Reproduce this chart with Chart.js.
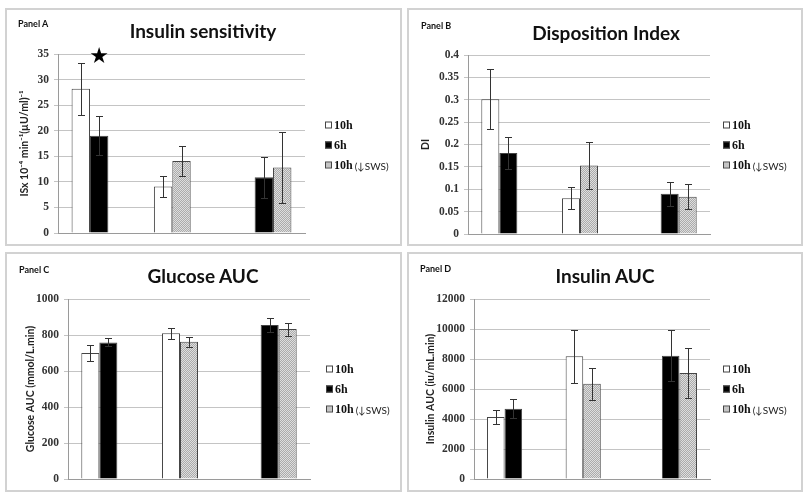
<!DOCTYPE html>
<html>
<head>
<meta charset="utf-8">
<script src="https://cdn.jsdelivr.net/npm/chart.js@4.4.1/dist/chart.umd.min.js"></script>
<style>
  body { margin: 0; background: #fff; width: 809px; height: 498px; position: relative; overflow: hidden; font-family: Lato, "Liberation Sans", sans-serif; color: #111; }
  .box { position: absolute; border: 2px solid #d2d2d2; box-sizing: border-box; }
  canvas { position: absolute; }
  .lbl { position: absolute; font-weight: bold; font-size: 9px; transform: translateY(-50%); white-space: nowrap; }
  .ttl { position: absolute; font-weight: bold; font-size: 19px; transform: translate(-50%, -50%); white-space: nowrap; }
  .leg { position: absolute; font-size: 11px; white-space: nowrap; transform: translateY(-50%); display: flex; align-items: center; }
  .leg i { display: inline-block; width: 5px; height: 5px; border: 1px solid #444; margin-right: 2px; }
  .leg b { font-family: "Liberation Serif", serif; font-size: 12px; }
  .leg span { font-size: 10px; color: #222; margin-left: 2px; }
</style>
</head>
<body>
<script>
// ===== data =====
const GROUPS = ['', '', ''];
const SERIES = ['10h', '6h', '10h'];
const SERIES_NOTE = ['', '', '(↓SWS)'];
// slot each series takes inside a group (Excel left gaps where a series is missing)
const SLOTS = [[0, 1, null], [0, null, 1], [null, 1, 2]];

// Panel A - insulin sensitivity
const isTen = [28.2, 9.1, null];
const isSix = [19.0, null, 10.9];
const isLow = [null, 14.1, 12.8];
const isTenErr = [5.1, 2.0, null];
const isSixErr = [3.8, null, 4.0];
const isLowErr = [null, 2.9, 6.9];
const isTicks = [0, 5, 10, 15, 20, 25, 30, 35];
const isStar = { group: 0, series: 1, value: 34.4 };

// Panel B - disposition index
const diTen = [0.301, 0.080, null];
const diSix = [0.181, null, 0.090];
const diLow = [null, 0.153, 0.083];
const diTenErr = [0.067, 0.025, null];
const diSixErr = [0.036, null, 0.027];
const diLowErr = [null, 0.053, 0.028];
const diTicks = [0, 0.05, 0.1, 0.15, 0.2, 0.25, 0.3, 0.35, 0.4];

// Panel C - glucose AUC
const gluTen = [700, 810, null];
const gluSix = [759, null, 856];
const gluLow = [null, 762, 833];
const gluTenErr = [46, 30, null];
const gluSixErr = [22, null, 38];
const gluLowErr = [null, 29, 36];
const gluTicks = [0, 200, 400, 600, 800, 1000];

// Panel D - insulin AUC
const insTen = [4130, 8180, null];
const insSix = [4690, null, 8220];
const insLow = [null, 6350, 7060];
const insTenErr = [480, 1770, null];
const insSixErr = [620, null, 1710];
const insLowErr = [null, 1060, 1680];
const insTicks = [0, 2000, 4000, 6000, 8000, 10000, 12000];
// =====================================

// fine grey stipple like the Excel fill
function grayPattern(ctx) {
  const t = document.createElement('canvas');
  t.width = 2; t.height = 2;
  const c = t.getContext('2d');
  c.fillStyle = '#dedede'; c.fillRect(0, 0, 2, 2);
  c.fillStyle = '#ababab';
  c.fillRect(0, 0, 1, 1); c.fillRect(1, 1, 1, 1);
  return ctx.createPattern(t, 'repeat');
}

// Error bar whiskers
const errorBars = {
  id: 'errorBars',
  afterDatasetsDraw(chart) {
    const { ctx, scales: { y } } = chart;
    ctx.save();
    ctx.strokeStyle = '#333';
    ctx.lineWidth = 1;
    chart.data.datasets.forEach((ds, i) => {
      chart.getDatasetMeta(i).data.forEach((bar, j) => {
        const v = ds.data[j], e = ds.errors[j];
        if (v == null || e == null) return;
        const x = Math.round(bar.x) + 0.5;
        const yt = Math.round(y.getPixelForValue(v + e)) + 0.5;
        const yb = Math.round(y.getPixelForValue(v - e)) + 0.5;
        ctx.beginPath();
        ctx.moveTo(x, yt); ctx.lineTo(x, yb);
        ctx.moveTo(x - 3.5, yt); ctx.lineTo(x + 3.5, yt);
        ctx.moveTo(x - 3.5, yb); ctx.lineTo(x + 3.5, yb);
        ctx.stroke();
      });
    });
    ctx.restore();
  }
};

// Significance star
const starMark = {
  id: 'starMark',
  afterDatasetsDraw(chart, args, opts) {
    if (!opts || !opts.mark) return;
    const m = opts.mark;
    const slot = SLOTS[m.group][m.series];
    const bar = chart.getDatasetMeta(slot).data[m.group];
    const ctx = chart.ctx;
    ctx.save();
    ctx.fillStyle = '#000';
    ctx.font = '22px "DejaVu Sans"';
    ctx.textAlign = 'center';
    ctx.textBaseline = 'middle';
    ctx.fillText('★', bar.x, chart.scales.y.getPixelForValue(m.value));
    ctx.restore();
  }
};

// Build one panel: border, canvas, texts and chart
function buildPanel(p) {
  const box = document.createElement('div');
  box.className = 'box';
  Object.assign(box.style, { left: p.x + 'px', top: p.y + 'px', width: p.w + 'px', height: p.h + 'px' });
  document.body.appendChild(box);

  const cv = document.createElement('canvas');
  cv.width = p.w; cv.height = p.h;
  Object.assign(cv.style, { left: p.x + 'px', top: p.y + 'px', width: p.w + 'px', height: p.h + 'px' });
  document.body.appendChild(cv);

  const lbl = document.createElement('div');
  lbl.className = 'lbl'; lbl.textContent = p.label;
  Object.assign(lbl.style, { left: p.labelX + 'px', top: p.labelY + 'px' });
  document.body.appendChild(lbl);

  const ttl = document.createElement('div');
  ttl.className = 'ttl'; ttl.textContent = p.title;
  Object.assign(ttl.style, { left: p.titleX + 'px', top: p.titleY + 'px' });
  document.body.appendChild(ttl);

  const ctx = cv.getContext('2d');
  const fills = ['#ffffff', '#000000', grayPattern(ctx)];
  const cssFills = ['#fff', '#000', 'repeating-conic-gradient(#ababab 0 25%, #dedede 0 50%) 0 0 / 2px 2px'];

  SERIES.forEach((s, k) => {
    const row = document.createElement('div');
    row.className = 'leg';
    Object.assign(row.style, { left: p.legX + 'px', top: p.legY[k] + 'px' });
    const sw = document.createElement('i');
    sw.style.background = cssFills[k];
    const name = document.createElement('b');
    name.textContent = s;
    row.appendChild(sw); row.appendChild(name);
    if (SERIES_NOTE[k]) {
      const note = document.createElement('span');
      note.textContent = SERIES_NOTE[k];
      row.appendChild(note);
    }
    document.body.appendChild(row);
  });

  const datasets = [0, 1, 2].map(s => {
    const data = [], errors = [], bg = [];
    GROUPS.forEach((g, gi) => {
      const c = SLOTS[gi].indexOf(s);
      data.push(c < 0 ? null : p.means[c][gi]);
      errors.push(c < 0 ? null : p.errs[c][gi]);
      bg.push(c < 0 ? 'rgba(0,0,0,0)' : fills[c]);
    });
    return { data, errors, backgroundColor: bg, borderColor: '#444', borderWidth: 1 };
  });

  const ticks = p.ticks;
  new Chart(ctx, {
    type: 'bar',
    data: { labels: GROUPS, datasets },
    options: {
      responsive: false,
      animation: false,
      layout: { padding: { left: 0, right: p.padR, top: p.padT, bottom: p.padB } },
      datasets: { bar: { categoryPercentage: 0.67, barPercentage: 1 } },
      plugins: { legend: { display: false }, tooltip: { enabled: false }, starMark: { mark: p.star } },
      scales: {
        x: {
          grid: { display: false },
          ticks: { display: false },
          border: { color: '#9a9a9a' },
          afterFit: s => { s.height = 0; }
        },
        y: {
          min: ticks[0], max: ticks[ticks.length - 1],
          afterBuildTicks: s => { s.ticks = ticks.map(v => ({ value: v })); },
          ticks: {
            color: '#333', padding: 5,
            font: { family: '"Liberation Serif", serif', size: 11.5, weight: 'bold' },
            callback: v => String(v)
          },
          grid: { color: '#c4c4c4', tickLength: 4 },
          border: { color: '#9a9a9a' },
          title: {
            display: true, text: p.yTitle, color: '#222',
            font: { family: 'Lato, sans-serif', size: p.yTitleSize, weight: 'bold' },
            padding: { top: p.yTitlePad, bottom: 0 }
          },
          afterFit: s => { s.width = p.axisW; }
        }
      }
    },
    plugins: [errorBars, starMark]
  });
}

buildPanel({
  x: 5, y: 8, w: 397, h: 238, axisW: 53, padR: 97, padT: 46, padB: 13,
  label: 'Panel A', labelX: 18, labelY: 23, title: 'Insulin sensitivity', titleX: 203, titleY: 30,
  yTitle: 'ISx 10⁻⁴ min⁻¹(µU/ml)⁻¹', yTitleSize: 10.5, yTitlePad: 13,
  legX: 325, legY: [125, 145, 165],
  means: [isTen, isSix, isLow], errs: [isTenErr, isSixErr, isLowErr], ticks: isTicks, star: isStar
});
buildPanel({
  x: 407, y: 8, w: 396, h: 238, axisW: 61, padR: 93, padT: 47, padB: 12,
  label: 'Panel B', labelX: 421, labelY: 25, title: 'Disposition Index', titleX: 606, titleY: 32,
  yTitle: 'DI', yTitleSize: 10.5, yTitlePad: 12,
  legX: 723, legY: [125, 145, 165],
  means: [diTen, diSix, diLow], errs: [diTenErr, diSixErr, diLowErr], ticks: diTicks, star: null
});
buildPanel({
  x: 5, y: 252, w: 397, h: 240, axisW: 63, padR: 92, padT: 47, padB: 13,
  label: 'Panel C', labelX: 19, labelY: 269, title: 'Glucose AUC', titleX: 203, titleY: 275,
  yTitle: 'Glucose AUC (mmol/L.min)', yTitleSize: 10.5, yTitlePad: 19,
  legX: 326, legY: [369, 389, 409],
  means: [gluTen, gluSix, gluLow], errs: [gluTenErr, gluSixErr, gluLowErr], ticks: gluTicks, star: null
});
buildPanel({
  x: 407, y: 252, w: 396, h: 240, axisW: 67, padR: 93, padT: 47, padB: 13,
  label: 'Panel D', labelX: 420, labelY: 268, title: 'Insulin AUC', titleX: 605, titleY: 275,
  yTitle: 'Insulin AUC (iu/mL.min)', yTitleSize: 10.5, yTitlePad: 17,
  legX: 723, legY: [369, 389, 409],
  means: [insTen, insSix, insLow], errs: [insTenErr, insSixErr, insLowErr], ticks: insTicks, star: null
});
</script>
</body>
</html>
